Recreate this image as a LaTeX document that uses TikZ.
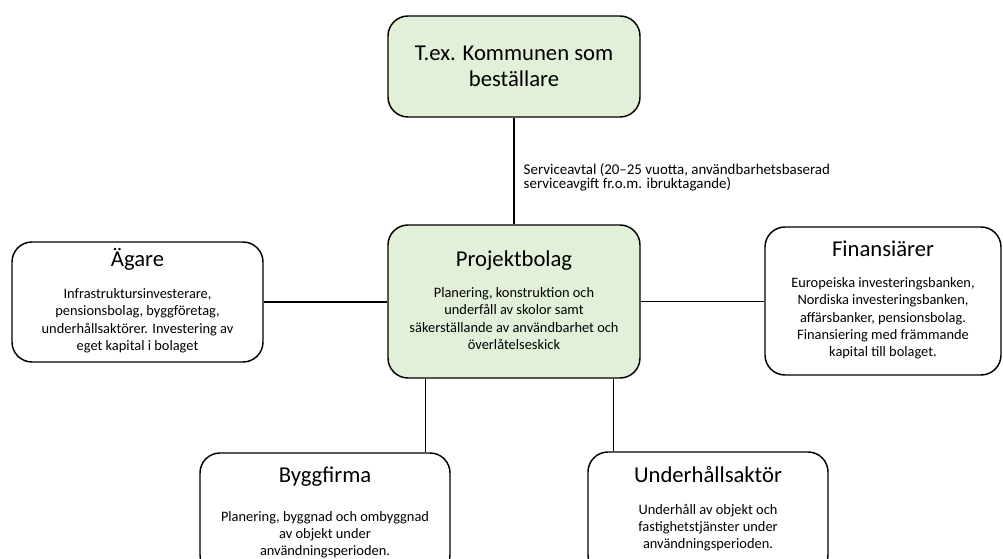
\documentclass[tikz,border=0pt]{standalone}
\usepackage{fontspec}
\setmainfont{Carlito}
\usetikzlibrary{calc}
\definecolor{boxgreen}{HTML}{E2EFD9}
\tikzset{
  box/.style={draw, line width=1.1pt, rounded corners=15pt, inner sep=0pt, fill=white},
  greenbox/.style={box, fill=boxgreen},
  titletext/.style={anchor=base, inner sep=0pt, font=\fontsize{17}{19.5}\selectfont},
  bodytext/.style={anchor=north, align=center, inner sep=0pt, font=\fontsize{10.8}{13}\selectfont},
  notetext/.style={anchor=west, align=left, inner sep=0pt, font=\fontsize{11.2}{10.5}\selectfont}
}

\begin{document}
\begin{tikzpicture}[x=0.75pt, y=-0.75pt]
    \useasboundingbox (0,0) rectangle (1003,559);
    \clip (0,0) rectangle (1003,559);
    \node[greenbox, minimum width=189pt, minimum height=75.75pt, align=center,
          font=\fontsize{17}{19.5}\selectfont] (kommun) at (514,66.5)
          {T.ex. Kommunen som\\beställare};
    \node[greenbox, minimum width=189pt, minimum height=114.75pt] (proj) at (514,301.5) {};
    \node[box, minimum width=188.25pt, minimum height=90pt] (agare) at (137.5,302) {};
    \node[box, minimum width=177pt, minimum height=111pt] (fin) at (883,301) {};
    \node[box, minimum width=187.5pt, minimum height=91.5pt] (bygg) at (325,514) {};
    \node[box, minimum width=180pt, minimum height=92.25pt] (underh) at (708,513.5) {};

    \node[titletext] (proj-t) at ([yshift=-42*0.75pt]proj.north) {Projektbolag};
    \node[bodytext] (proj-b) at ([yshift=-63*0.75pt]proj.north)
          {Planering, konstruktion och\\underfåll av skolor samt\\säkerställande av användbarhet och\\överlåtelseskick};
    \node[titletext] (agare-t) at ([yshift=-25*0.75pt]agare.north) {Ägare};
    \node[bodytext] (agare-b) at ([yshift=-47*0.75pt]agare.north)
          {Infrastruktursinvesterare,\\pensionsbolag, byggföretag,\\underhållsaktörer. Investering av\\eget kapital i bolaget};
    \node[titletext] (fin-t) at ([yshift=-30*0.75pt]fin.north) {Finansiärer};
    \node[bodytext] (fin-b) at ([yshift=-51*0.75pt]fin.north)
          {Europeiska investeringsbanken,\\Nordiska investeringsbanken,\\affärsbanker, pensionsbolag.\\Finansiering med främmande\\kapital till bolaget.};
    \node[titletext] (bygg-t) at ([yshift=-30*0.75pt]bygg.north) {Byggfirma};
    \node[bodytext] (bygg-b) at ([yshift=-58.5*0.75pt]bygg.north)
          {Planering, byggnad och ombyggnad\\av objekt under\\användningsperioden.};
    \node[titletext] (underh-t) at ([yshift=-31*0.75pt]underh.north) {Underhållsaktör};
    \node[bodytext] (underh-b) at ([yshift=-52.5*0.75pt]underh.north)
          {Underhåll av objekt och\\fastighetstjänster under\\användningsperioden.};

    \coordinate (pb1) at ($(proj.south west)!0.15!(proj.south east)$);
    \coordinate (pb2) at ($(proj.south west)!0.893!(proj.south east)$);
    \draw[line width=1.1pt] (kommun) -- node[notetext, midway, xshift=6.75pt, yshift=-4.5pt]
          {Serviceavtal (20–25 vuotta, användbarhetsbaserad\\serviceavgift fr.o.m. ibruktagande)} (proj);
    \draw[line width=1.1pt] (agare.east) -- (agare.east -| proj.west);
    \draw[line width=1.1pt] (proj.east) -- (proj.east -| fin.west);
    \draw[line width=1.1pt] (pb1) -- (pb1 |- bygg.north);
    \draw[line width=1.1pt] (pb2) -- (pb2 |- underh.north);
\end{tikzpicture}
\end{document}
